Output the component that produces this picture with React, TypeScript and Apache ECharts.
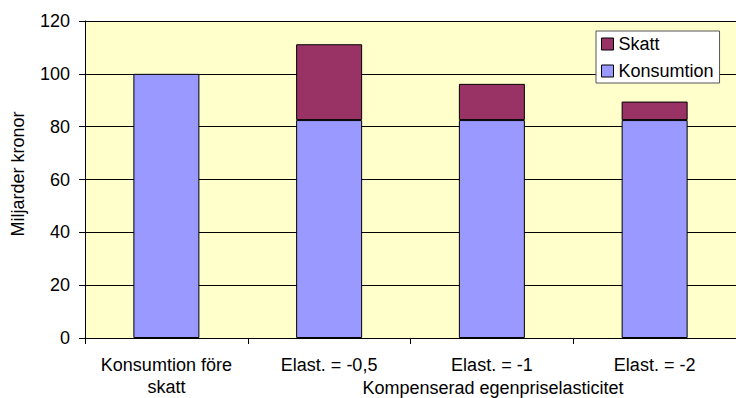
import React, { useEffect, useRef } from "react";
import * as echarts from "echarts";

// Consumption vs. tax under different compensated own-price elasticities (billion SEK)
const categories = ["Konsumtion före\nskatt", "Elast. = -0,5", "Elast. = -1", "Elast. = -2"];
const konsumtion = [100, 82.5, 82.5, 82.5];
const skatt: (number | null)[] = [null, 28.7, 13.7, 7.0];
const yTicks = { min: 0, max: 120, interval: 20 };

const FONT = "'Liberation Sans', Arial, sans-serif";

export default function App() {
  const ref = useRef<HTMLDivElement>(null);

  useEffect(() => {
    if (!ref.current) return;
    const chart = echarts.init(ref.current, undefined, { renderer: "svg" });
    chart.setOption({
      animation: false,
      textStyle: { fontFamily: FONT },
      grid: {
        left: 85,
        top: 21,
        width: 660,
        height: 317,
        show: true,
        backgroundColor: "#FFFFCC",
        borderWidth: 0,
      },
      legend: {
        orient: "vertical",
        left: 596,
        top: 31,
        data: ["Skatt", "Konsumtion"],
        icon: "rect",
        itemWidth: 12,
        itemHeight: 12,
        itemGap: 7,
        padding: [3, 6, 2, 5],
        backgroundColor: "#FFFFFF",
        borderColor: "#555555",
        borderWidth: 1,
        borderRadius: 0,
        itemStyle: { borderColor: "#000", borderWidth: 1 },
        textStyle: { fontFamily: FONT, fontSize: 18, lineHeight: 20, color: "#000" },
      },
      xAxis: {
        type: "category",
        data: categories,
        axisLine: { lineStyle: { color: "#000", width: 1 } },
        axisTick: { show: true, length: 6, inside: false, lineStyle: { color: "#000" } },
        axisLabel: {
          interval: 0,
          margin: 16,
          fontFamily: FONT,
          fontSize: 18,
          lineHeight: 22,
          color: "#000",
        },
      },
      yAxis: {
        type: "value",
        min: yTicks.min,
        max: yTicks.max,
        interval: yTicks.interval,
        axisLine: { show: true, lineStyle: { color: "#000", width: 1 } },
        axisTick: { show: true, length: 6, lineStyle: { color: "#000" } },
        axisLabel: { margin: 15, fontFamily: FONT, fontSize: 18, color: "#000" },
        splitLine: { show: true, lineStyle: { color: "#000", width: 1 } },
      },
      graphic: [
        {
          type: "text",
          x: 18,
          y: 174,
          rotation: Math.PI / 2,
          style: {
            text: "Miljarder kronor",
            fontFamily: FONT,
            fontSize: 18,
            fill: "#000",
            align: "center",
            verticalAlign: "middle",
          },
        },
        {
          type: "text",
          x: 493,
          y: 388,
          style: {
            text: "Kompenserad egenpriselasticitet",
            fontFamily: FONT,
            fontSize: 18,
            fill: "#000",
            align: "center",
            verticalAlign: "middle",
          },
        },
      ],
      series: [
        {
          name: "Konsumtion",
          type: "bar",
          stack: "total",
          barWidth: 66,
          data: konsumtion,
          itemStyle: { color: "#9999FF", borderColor: "#000", borderWidth: 1 },
        },
        {
          name: "Skatt",
          type: "bar",
          stack: "total",
          barWidth: 66,
          data: skatt.map((v) => (v === null ? "-" : v)),
          itemStyle: { color: "#993366", borderColor: "#000", borderWidth: 1 },
        },
      ],
    });
    return () => chart.dispose();
  }, []);

  return (
    <div
      ref={ref}
      style={{ position: "absolute", left: 0, top: 0, width: 736, height: 398 }}
    />
  );
}
